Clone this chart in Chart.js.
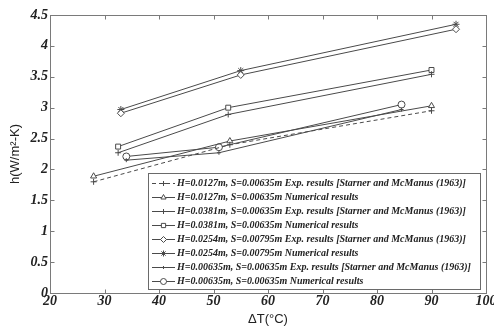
<!DOCTYPE html>
<html>
<head>
<meta charset="utf-8">
<script src="https://cdn.jsdelivr.net/npm/chart.js@4/dist/chart.umd.min.js"></script>
<style>
  body { margin: 0; background: #fff; }
  #wrap { width: 494px; height: 329px; }
</style>
</head>
<body>
<div id="wrap"><canvas id="myChart" width="494" height="329"></canvas></div>
<script>
// values
var labels = [
    "H=0.0127m, S=0.00635m Exp. results [Starner and McManus (1963)]",
    "H=0.0127m, S=0.00635m Numerical results",
    "H=0.0381m, S=0.00635m Exp. results [Starner and McManus (1963)]",
    "H=0.0381m, S=0.00635m Numerical results",
    "H=0.0254m, S=0.00795m Exp. results [Starner and McManus (1963)]",
    "H=0.0254m, S=0.00795m Numerical results",
    "H=0.00635m, S=0.00635m Exp. results [Starner and McManus (1963)]",
    "H=0.00635m, S=0.00635m Numerical results"
];
var dT_h0127 = [28, 53, 90];
var dT_h0381 = [32.5, 52.7, 90];
var dT_h0254 = [33, 55, 94.5];
var dT_h00635 = [34, 51, 84.5];

var h_0127_exp = [1.80, 2.40, 2.95];
var h_0127_num = [1.89, 2.46, 3.03];
var h_0381_exp = [2.27, 2.89, 3.54];
var h_0381_num = [2.37, 3.00, 3.61];
var h_0254_exp = [2.91, 3.53, 4.27];
var h_0254_num = [2.97, 3.60, 4.35];
var h_00635_exp = [2.15, 2.27, 2.97];
var h_00635_num = [2.21, 2.36, 3.05];

var xTicks = [20, 30, 40, 50, 60, 70, 80, 90, 100];
var yTicks = [0, 0.5, 1, 1.5, 2, 2.5, 3, 3.5, 4, 4.5];

var lineCol = "#4a4a4a";
var tickFont = { family: "'Liberation Serif', 'Times New Roman', serif", style: "italic", weight: "bold", size: 14 };

function pts(xs, ys) {
    let out = [];
    for (let i = 0; i < xs.length; i++) out.push({ x: xs[i], y: ys[i] });
    return out;
}

function series(i, xs, ys, style, radius, dash, fill) {
    return {
        label: labels[i],
        data: pts(xs, ys),
        borderColor: lineCol,
        borderWidth: 1,
        borderDash: dash,
        pointStyle: style,
        pointRadius: radius,
        pointBorderColor: lineCol,
        pointBackgroundColor: fill,
        pointBorderWidth: 1,
        showLine: true,
        tension: 0
    };
}

var datasets = [
    series(0, dT_h0127, h_0127_exp, "cross", 3, [4, 3], "#fff"),
    series(1, dT_h0127, h_0127_num, "triangle", 3.5, [], "#fff"),
    series(2, dT_h0381, h_0381_exp, "cross", 3, [], lineCol),
    series(3, dT_h0381, h_0381_num, "rect", 3.5, [], "#fff"),
    series(4, dT_h0254, h_0254_exp, "rectRot", 3.5, [], "#fff"),
    series(5, dT_h0254, h_0254_num, "star", 3.5, [], lineCol),
    series(6, dT_h00635, h_00635_exp, "cross", 2, [], lineCol),
    series(7, dT_h00635, h_00635_num, "circle", 3.5, [], "#fff")
];

function noPad(scale) {
    scale.paddingLeft = 0;
    scale.paddingRight = 0;
    scale.paddingTop = 0;
    scale.paddingBottom = 0;
}

// frame with inward ticks, matlab style
var framePlugin = {
    id: "frame",
    afterDraw: (chart) => {
        let c = chart.ctx;
        let a = chart.chartArea;
        let xs = chart.scales.x, ys = chart.scales.y;
        c.save();
        c.strokeStyle = "#7a7a7a";
        c.lineWidth = 1;
        let L = Math.round(a.left) + 0.5, R = Math.round(a.right) + 0.5;
        let T = Math.round(a.top) + 0.5, B = Math.round(a.bottom) + 0.5;
        c.strokeRect(L, T, R - L, B - T);
        c.beginPath();
        xTicks.forEach((v) => {
            let px = Math.round(xs.getPixelForValue(v)) + 0.5;
            c.moveTo(px, B); c.lineTo(px, B - 4);
            c.moveTo(px, T); c.lineTo(px, T + 4);
        });
        yTicks.forEach((v) => {
            let py = Math.round(ys.getPixelForValue(v)) + 0.5;
            c.moveTo(L, py); c.lineTo(L + 4, py);
            c.moveTo(R, py); c.lineTo(R - 4, py);
        });
        c.stroke();
        c.restore();
    }
};

// boxed legend inside the plot
var legendPlugin = {
    id: "boxLegend",
    afterDraw: (chart) => {
        let c = chart.ctx;
        let bx = 148, by = 173, bw = 332, bh = 116;
        c.save();
        c.fillStyle = "#fff";
        c.fillRect(bx, by, bw, bh);
        c.strokeStyle = "#6a6a6a";
        c.lineWidth = 1;
        c.strokeRect(bx + 0.5, by + 0.5, bw, bh);
        c.font = "italic bold 10px 'Liberation Serif', 'Times New Roman', serif";
        c.textBaseline = "middle";
        chart.data.datasets.forEach((ds, i) => {
            let y = Math.round(by + 10 + i * 14) + 0.5;
            c.strokeStyle = lineCol;
            c.lineWidth = 1;
            c.setLineDash(ds.borderDash || []);
            c.beginPath();
            c.moveTo(152, y); c.lineTo(175, y);
            c.stroke();
            c.setLineDash([]);
            c.fillStyle = ds.pointBackgroundColor;
            c.strokeStyle = lineCol;
            Chart.helpers.drawPoint(c, {
                pointStyle: ds.pointStyle,
                radius: ds.pointRadius - 0.5,
                rotation: 0,
                borderWidth: 1
            }, 163.5, y);
            c.fillStyle = "#222";
            c.fillText(ds.label, 177, y);
        });
        c.restore();
    }
};

var ctx = document.getElementById("myChart").getContext("2d");
var chart = new Chart(ctx, {
    type: "scatter",
    data: { datasets: datasets },
    options: {
        responsive: false,
        animation: false,
        layout: { padding: { top: 15, right: 8, bottom: 0, left: 0 } },
        plugins: {
            legend: { display: false },
            tooltip: { enabled: false }
        },
        scales: {
            x: {
                type: "linear",
                min: 20,
                max: 100,
                afterBuildTicks: (scale) => { scale.ticks = xTicks.map((v) => ({ value: v })); },
                afterFit: (scale) => { scale.height = 36; noPad(scale); },
                ticks: { font: tickFont, color: "#222", padding: 0, maxRotation: 0, callback: (v) => String(v) },
                grid: { display: false, drawTicks: false },
                border: { display: false },
                title: {
                    display: true,
                    text: "ΔT(°C)",
                    font: { family: "'Liberation Sans', Arial, sans-serif", size: 13 },
                    color: "#222",
                    padding: { top: 0, bottom: 2 }
                }
            },
            y: {
                type: "linear",
                min: 0,
                max: 4.5,
                afterBuildTicks: (scale) => { scale.ticks = yTicks.map((v) => ({ value: v })); },
                afterFit: (scale) => { scale.width = 50; noPad(scale); },
                ticks: { font: tickFont, color: "#222", padding: 2, callback: (v) => String(v) },
                grid: { display: false, drawTicks: false },
                border: { display: false },
                title: {
                    display: true,
                    text: "h(W/m²-K)",
                    font: { family: "'Liberation Sans', Arial, sans-serif", size: 13 },
                    color: "#222",
                    padding: { top: 8, bottom: 0 }
                }
            }
        }
    },
    plugins: [framePlugin, legendPlugin]
});
</script>
</body>
</html>
